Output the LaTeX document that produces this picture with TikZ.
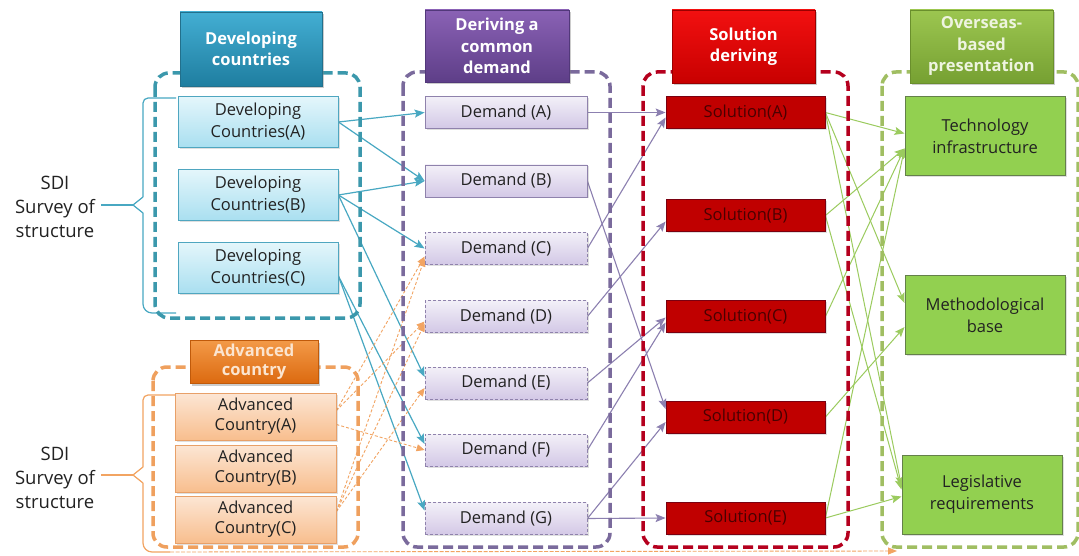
\documentclass[tikz,border=0pt]{standalone}
\usepackage{fontspec}
\setmainfont{Open Sans}
\usetikzlibrary{arrows.meta,shadows,backgrounds}
\definecolor{tealdash}{HTML}{3B98AC}
\definecolor{orgdash}{HTML}{EFA05E}
\definecolor{purdash}{HTML}{7A6A9C}
\definecolor{reddash}{HTML}{B5001E}
\definecolor{grndash}{HTML}{A0BE62}
\definecolor{hdcT}{HTML}{43AED3}\definecolor{hdcB}{HTML}{1F7EA0}\definecolor{hdcD}{HTML}{22708C}
\definecolor{hpuT}{HTML}{8A62B5}\definecolor{hpuB}{HTML}{5E3E88}\definecolor{hpuD}{HTML}{52387A}
\definecolor{hreT}{HTML}{F21010}\definecolor{hreB}{HTML}{C80000}\definecolor{hreD}{HTML}{9A0000}
\definecolor{hgrT}{HTML}{9CC650}\definecolor{hgrB}{HTML}{76A032}\definecolor{hgrD}{HTML}{6A8F2C}\definecolor{hgrX}{HTML}{EEF4E0}
\definecolor{horT}{HTML}{F39A48}\definecolor{horB}{HTML}{DC6A10}\definecolor{horD}{HTML}{C05A0A}\definecolor{horX}{HTML}{FBE5D0}
\definecolor{dcT}{HTML}{E4F6FB}\definecolor{dcB}{HTML}{A9DFF0}\definecolor{dcD}{HTML}{4FA6C0}
\definecolor{acT}{HTML}{FCE6D4}\definecolor{acB}{HTML}{F8BE8E}\definecolor{acD}{HTML}{E8A068}
\definecolor{dmT}{HTML}{F3F0F8}\definecolor{dmB}{HTML}{D3C8E6}\definecolor{dmD}{HTML}{8F82AC}
\definecolor{slF}{HTML}{C00000}\definecolor{slD}{HTML}{7A0010}\definecolor{slX}{HTML}{4A0000}
\definecolor{grF}{HTML}{92D050}\definecolor{grD}{HTML}{64804A}
\definecolor{tealln}{HTML}{48A8C2}\definecolor{purln}{HTML}{8C80B0}
\definecolor{grnln}{HTML}{9BCB5E}\definecolor{orgln}{HTML}{F2A462}
\definecolor{txt}{HTML}{222222}
\begin{document}
\begin{tikzpicture}[x=1pt,y=-1pt,
  every node/.style={align=center,inner sep=0pt},
  hdrbox/.style={font=\fontsize{16.5}{21.5}\selectfont\bfseries,text=white,line width=0.6pt,
    drop shadow={opacity=0.4,shadow xshift=2pt,shadow yshift=-2.5pt}},
  nodeshadow/.style={drop shadow={opacity=0.25,shadow xshift=1.5pt,shadow yshift=-1.5pt}},
  dcbox/.style={nodeshadow,draw=dcD,top color=dcT,bottom color=dcB,line width=0.8pt,
    minimum width=160pt,minimum height=51pt,font=\fontsize{16.5}{22}\selectfont,text=txt},
  acbox/.style={nodeshadow,draw=acD,top color=acT,bottom color=acB,line width=0.8pt,
    minimum width=161pt,minimum height=47pt,font=\fontsize{16.5}{20}\selectfont,text=txt},
  dmbox/.style={nodeshadow,draw=dmD,top color=dmT,bottom color=dmB,line width=0.8pt,
    minimum width=162pt,minimum height=32pt,font=\fontsize{16.5}{20}\selectfont,text=txt},
  dmdash/.style={dmbox,densely dashed},
  slbox/.style={nodeshadow,draw=slD,fill=slF,line width=0.8pt,
    minimum width=159pt,minimum height=32pt,font=\fontsize{16.5}{20}\selectfont,text=slX},
  grbox/.style={nodeshadow,draw=grD,fill=grF,line width=1pt,
    minimum width=160pt,minimum height=79pt,font=\fontsize{16.5}{22}\selectfont,text=txt},
  sdilabel/.style={font=\fontsize{18.5}{24}\selectfont,text=txt},
  container/.style={line width=3.5pt,dash pattern=on 10pt off 5pt,rounded corners=14pt},
  tealarrow/.style={draw=tealln,line width=1.2pt,-{Stealth[length=10pt,width=8pt,inset=2pt]}},
  purarrow/.style={draw=purln,line width=1.1pt,-{Stealth[length=10pt,width=8pt,inset=2pt]}},
  grnarrow/.style={draw=grnln,line width=1pt,-{Stealth[length=10pt,width=8pt,inset=2pt]}},
  orgarrow/.style={draw=orgln,line width=0.9pt,dash pattern=on 3pt off 2pt,-{Triangle[length=8pt,width=7pt]}},
  tealbrace/.style={draw=tealln,line width=1.2pt},
  orgbrace/.style={draw=orgln,line width=1.2pt}
]
\useasboundingbox (0,0) rectangle (1079,556);

% headers
\node[hdrbox,draw=hdcD,top color=hdcT,bottom color=hdcB,minimum width=142pt,minimum height=74pt] (hdc) at (251,49) {Developing\\countries};
\node[hdrbox,draw=hpuD,top color=hpuT,bottom color=hpuB,minimum width=144pt,minimum height=72pt] (hdm) at (497,46) {Deriving a\\common\\demand};
\node[hdrbox,draw=hreD,top color=hreT,bottom color=hreB,minimum width=143pt,minimum height=73pt] (hsl) at (743.5,46.5) {Solution\\deriving};
\node[hdrbox,draw=hgrD,top color=hgrT,bottom color=hgrB,minimum width=143pt,minimum height=73pt,text=hgrX] (hov) at (981.5,46.5) {Overseas-\\based\\presentation};
\node[hdrbox,draw=horD,top color=horT,bottom color=horB,minimum width=128pt,minimum height=43pt,text=horX,font=\fontsize{16.5}{19}\selectfont\bfseries] (hac) at (254,361.5) {Advanced\\country};

% developing countries
\node[dcbox] (dca) at (258,122) {Developing\\Countries(A)};
\node[dcbox] (dcb) at (258,195) {Developing\\Countries(B)};
\node[dcbox] (dcc) at (258,268) {Developing\\Countries(C)};
% advanced countries
\node[acbox] (aca) at (255.5,416.5) {Advanced\\Country(A)};
\node[acbox] (acb) at (255.5,468.5) {Advanced\\Country(B)};
\node[acbox] (acc) at (255.5,519.5) {Advanced\\Country(C)};
% demands
\node[dmbox] (dma) at (506,112.5) {Demand (A)};
\node[dmbox] (dmb) at (506,181) {Demand (B)};
\node[dmdash] (dmc) at (506,248.5) {Demand (C)};
\node[dmdash] (dmd) at (506,316.5) {Demand (D)};
\node[dmdash] (dme) at (506,383) {Demand (E)};
\node[dmdash] (dmf) at (506,450) {Demand (F)};
\node[dmdash] (dmg) at (506,518.5) {Demand (G)};
% solutions
\node[slbox] (sla) at (745.5,112.5) {Solution(A)};
\node[slbox] (slb) at (745.5,215.5) {Solution(B)};
\node[slbox] (slc) at (745.5,316.5) {Solution(C)};
\node[slbox] (sld) at (745.5,417) {Solution(D)};
\node[slbox] (sle) at (745.5,518) {Solution(E)};
% overseas
\node[grbox] (tec) at (985,136.5) {Technology\\infrastructure};
\node[grbox] (met) at (985,315) {Methodological\\base};
\node[grbox] (leg) at (982,494.5) {Legislative\\requirements};
% SDI labels
\node[sdilabel] (sdi1) at (55,207) {SDI\\Survey of\\structure};
\node[sdilabel] (sdi2) at (55,478) {SDI\\Survey of\\structure};

\coordinate (b1t) at (176,98);
\coordinate (b1b) at (176,313);
\coordinate (b2t) at (176,395);
\coordinate (b2e) at (897,551);

\begin{scope}[on background layer]
\fill[white] (0,0) rectangle (1079,556);
% connectors: developing -> demand
\draw[tealarrow] (dca.east) -- (dma.west);
\draw[tealarrow] (dca.east) -- (dmb.west);
\draw[tealarrow] (dcb.east) -- (dmb.west);
\draw[tealarrow] (dcb.east) -- (dmc.west);
\draw[tealarrow] (dcb.east) -- ([yshift=6pt]dme.west);
\draw[tealarrow] ([yshift=-8pt]dcc.east) -- ([yshift=6pt]dmf.west);
\draw[tealarrow] ([yshift=-8pt]dcc.east) -- ([yshift=8pt]dmg.west);
% advanced -> demand
\draw[orgarrow] ([yshift=6pt]aca.east) -- ([yshift=-8pt]dmc.west);
\draw[orgarrow] ([yshift=6pt]aca.east) -- ([yshift=-5pt]dmd.west);
\draw[orgarrow] ([yshift=-8pt]aca.east) -- (dmf.west);
\draw[orgarrow] ([yshift=8pt]acc.east) -- ([yshift=-10pt]dmc.west);
\draw[orgarrow] ([yshift=8pt]acc.east) -- ([yshift=-7pt]dmd.west);
\draw[orgarrow] ([yshift=8pt]acc.east) -- ([yshift=-5pt]dme.west);
% demand -> solution
\draw[purarrow] (dma.east) -- (sla.west);
\draw[purarrow] (dmc.east) -- ([yshift=-5pt]sla.west);
\draw[purarrow] (dmb.east) -- ([yshift=8pt]sld.west);
\draw[purarrow] (dmd.east) -- ([yshift=-6pt]slb.west);
\draw[purarrow] (dme.east) -- ([yshift=-1pt]slc.west);
\draw[purarrow] (dmf.east) -- ([yshift=-6pt]slc.west);
\draw[purarrow] (dmg.east) -- ([yshift=-5pt]sld.west);
\draw[purarrow] (dmg.east) -- (sle.west);
% solution -> overseas
\draw[grnarrow] (sla.east) -- ([yshift=3pt]tec.west);
\draw[grnarrow] (sla.east) -- ([yshift=12pt]met.west);
\draw[grnarrow] (sla.east) -- ([yshift=8pt]leg.west);
\draw[grnarrow] (slb.east) -- ([yshift=-12pt]tec.west);
\draw[grnarrow] (slb.east) -- ([yshift=5pt]leg.west);
\draw[grnarrow] (slc.east) -- ([yshift=-12pt]tec.west);
\draw[grnarrow] (sld.east) -- ([yshift=-12pt]met.west);
\draw[grnarrow] (sle.east) -- ([yshift=-12pt]tec.west);
\draw[grnarrow] (sle.east) -- ([yshift=-2pt]leg.west);
% braces
\draw[tealbrace,rounded corners=5pt] (b1t) -- (143,98) -- (143,197);
\draw[tealbrace] (143,197) -- (133,205) -- (143,213);
\draw[tealbrace] (133,205) -- ([xshift=6pt,yshift=2pt]sdi1.east);
\draw[tealbrace,rounded corners=9pt] (143,213) -- (143,313) -- (b1b);
\draw[orgbrace,rounded corners=5pt] (b2t) -- (143,395) -- (143,467);
\draw[orgbrace] (143,467) -- (133,475) -- (143,483);
\draw[orgbrace] (133,475) -- ([xshift=6pt,yshift=3pt]sdi2.east);
\draw[orgbrace,rounded corners=9pt] (143,483) -- (143,552) -- (170,552);
\draw[draw=orgln,line width=0.9pt,dash pattern=on 4pt off 1.5pt,-{Triangle[length=9pt,width=7pt]}] (170,552) -- (b2e);
% containers
\draw[container,draw=tealdash] (155,73) rectangle (360,318);
\draw[container,draw=orgdash] (153,367) rectangle (358,547);
\draw[container,draw=purdash] (403,72) rectangle (610,547);
\draw[container,draw=reddash] (643,72) rectangle (848,547);
\draw[container,draw=grndash] (882,72) rectangle (1078,547);
\end{scope}
\end{tikzpicture}
\end{document}
